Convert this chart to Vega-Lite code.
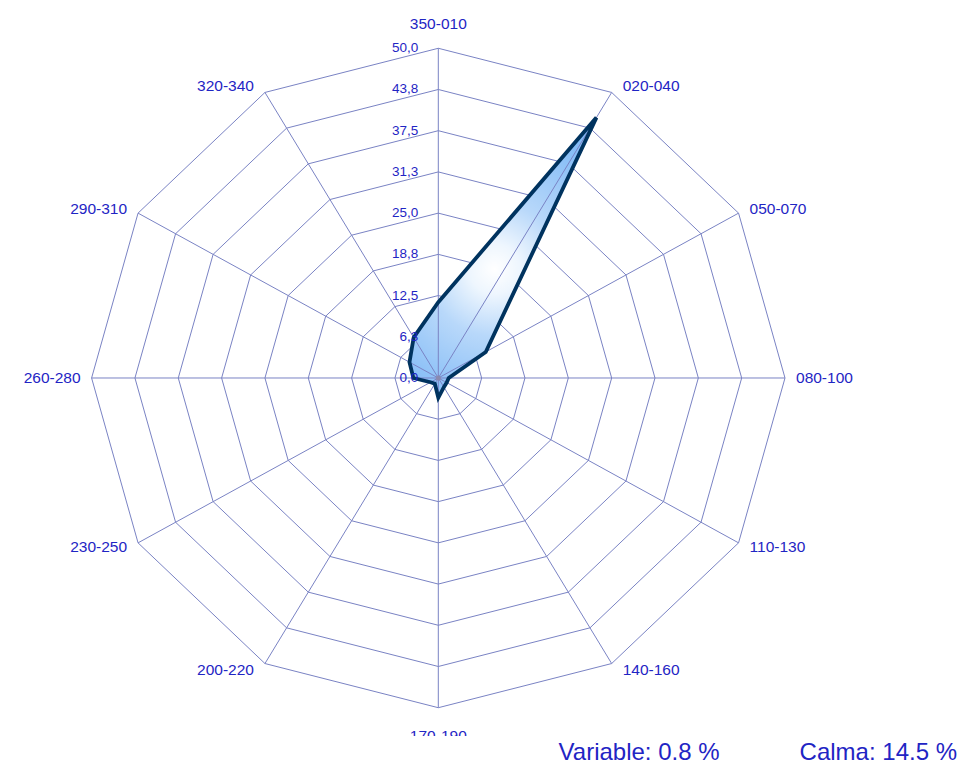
{
  "$schema": "https://vega.github.io/schema/vega-lite/v6.json",
  "width": 961,
  "height": 736,
  "padding": {"left": 0, "top": 0, "right": 0, "bottom": 29},
  "autosize": {"type": "none"},
  "background": "white",
  "config": {"view": {"stroke": null}},
  "title": {
    "text": "Variable: 0.8 %\u00a0\u00a0\u00a0\u00a0\u00a0\u00a0\u00a0\u00a0\u00a0\u00a0\u00a0\u00a0Calma: 14.5 %",
    "orient": "bottom",
    "anchor": "end",
    "frame": "group",
    "baseline": "alphabetic",
    "offset": 24,
    "dx": -4,
    "font": "Liberation Sans",
    "fontSize": 24,
    "fontWeight": "normal",
    "color": "#1f25c4"
  },
  "datasets": {
    "dirs": [
      {"dir": "350-010", "deg": 0, "pct": 11.5},
      {"dir": "020-040", "deg": 30, "pct": 45.6},
      {"dir": "050-070", "deg": 60, "pct": 7.9},
      {"dir": "080-100", "deg": 90, "pct": 1.5},
      {"dir": "110-130", "deg": 120, "pct": 1.4},
      {"dir": "140-160", "deg": 150, "pct": 1.6},
      {"dir": "170-190", "deg": 180, "pct": 3.0},
      {"dir": "200-220", "deg": 210, "pct": 1.0},
      {"dir": "230-250", "deg": 240, "pct": 1.3},
      {"dir": "260-280", "deg": 270, "pct": 3.6},
      {"dir": "290-310", "deg": 300, "pct": 4.8},
      {"dir": "320-340", "deg": 330, "pct": 7.1}
    ],
    "rings": [
      {"ring": 0, "label": "0,0", "deg": [0]},
      {"ring": 6.25, "label": "6,3", "deg": [0, 30, 60, 90, 120, 150, 180, 210, 240, 270, 300, 330]},
      {"ring": 12.5, "label": "12,5", "deg": [0, 30, 60, 90, 120, 150, 180, 210, 240, 270, 300, 330]},
      {"ring": 18.75, "label": "18,8", "deg": [0, 30, 60, 90, 120, 150, 180, 210, 240, 270, 300, 330]},
      {"ring": 25, "label": "25,0", "deg": [0, 30, 60, 90, 120, 150, 180, 210, 240, 270, 300, 330]},
      {"ring": 31.25, "label": "31,3", "deg": [0, 30, 60, 90, 120, 150, 180, 210, 240, 270, 300, 330]},
      {"ring": 37.5, "label": "37,5", "deg": [0, 30, 60, 90, 120, 150, 180, 210, 240, 270, 300, 330]},
      {"ring": 43.75, "label": "43,8", "deg": [0, 30, 60, 90, 120, 150, 180, 210, 240, 270, 300, 330]},
      {"ring": 50, "label": "50,0", "deg": [0, 30, 60, 90, 120, 150, 180, 210, 240, 270, 300, 330]}
    ]
  },
  "layer": [
    {
      "data": {"name": "rings"},
      "transform": [
        {"filter": "datum.ring > 0"},
        {"flatten": ["deg"]},
        {"calculate": "datum.ring * sin(datum.deg * PI / 180)", "as": "gx"},
        {"calculate": "datum.ring * cos(datum.deg * PI / 180)", "as": "gy"}
      ],
      "mark": {"type": "line", "interpolate": "linear-closed", "stroke": "#7a83c4", "strokeWidth": 1},
      "encoding": {
        "x": {"field": "gx", "type": "quantitative", "scale": {"domain": [-63.21, 75.38], "nice": false, "zero": false}, "axis": null},
        "y": {"field": "gy", "type": "quantitative", "scale": {"domain": [-54.29, 57.32], "nice": false, "zero": false}, "axis": null},
        "detail": {"field": "ring", "type": "nominal"},
        "order": {"field": "deg", "type": "quantitative"}
      }
    },
    {
      "data": {"name": "dirs"},
      "transform": [
        {"calculate": "datum.pct * sin(datum.deg * PI / 180)", "as": "px"},
        {"calculate": "datum.pct * cos(datum.deg * PI / 180)", "as": "py"}
      ],
      "mark": {
        "type": "line",
        "interpolate": "linear-closed",
        "strokeWidth": 0,
        "strokeOpacity": 0,
        "fill": {
          "gradient": "radial",
          "x1": 0.47, "y1": 0.54, "r1": 0,
          "x2": 0.47, "y2": 0.54, "r2": 0.75,
          "stops": [
            {"offset": 0, "color": "#ffffff"},
            {"offset": 0.12, "color": "#eef6fe"},
            {"offset": 0.32, "color": "#b8d8fa"},
            {"offset": 0.6, "color": "#8fc2f7"},
            {"offset": 1, "color": "#6eaef4"}
          ]
        }
      },
      "encoding": {
        "x": {"field": "px", "type": "quantitative"},
        "y": {"field": "py", "type": "quantitative"},
        "order": {"field": "deg", "type": "quantitative"}
      }
    },
    {
      "data": {"name": "dirs"},
      "transform": [
        {"calculate": "0", "as": "ox"},
        {"calculate": "0", "as": "oy"},
        {"calculate": "50 * sin(datum.deg * PI / 180)", "as": "sx"},
        {"calculate": "50 * cos(datum.deg * PI / 180)", "as": "sy"}
      ],
      "mark": {"type": "rule", "stroke": "#7a83c4", "strokeWidth": 1},
      "encoding": {
        "x": {"field": "ox", "type": "quantitative"},
        "y": {"field": "oy", "type": "quantitative"},
        "x2": {"field": "sx"},
        "y2": {"field": "sy"}
      }
    },
    {
      "data": {"name": "dirs"},
      "transform": [
        {"calculate": "datum.pct * sin(datum.deg * PI / 180)", "as": "px"},
        {"calculate": "datum.pct * cos(datum.deg * PI / 180)", "as": "py"}
      ],
      "mark": {"type": "line", "interpolate": "linear-closed", "stroke": "#00335f", "strokeWidth": 3.8, "strokeJoin": "miter"},
      "encoding": {
        "x": {"field": "px", "type": "quantitative"},
        "y": {"field": "py", "type": "quantitative"},
        "order": {"field": "deg", "type": "quantitative"}
      }
    },
    {
      "data": {"values": [{"cx": 0, "cy": 0}]},
      "mark": {"type": "point", "filled": true, "color": "#8a8ab0", "size": 25, "opacity": 1},
      "encoding": {
        "x": {"field": "cx", "type": "quantitative"},
        "y": {"field": "cy", "type": "quantitative"}
      }
    },
    {
      "data": {"name": "rings"},
      "transform": [
        {"calculate": "0", "as": "tx"}
      ],
      "mark": {"type": "text", "align": "right", "baseline": "middle", "dx": -20, "font": "Liberation Sans", "fontSize": 13.5, "color": "#1f25c4"},
      "encoding": {
        "x": {"field": "tx", "type": "quantitative"},
        "y": {"field": "ring", "type": "quantitative"},
        "text": {"field": "label", "type": "nominal"}
      }
    },
    {
      "data": {"name": "dirs"},
      "transform": [
        {"filter": "datum.deg > 0 && datum.deg < 180"},
        {"calculate": "50 * sin(datum.deg * PI / 180)", "as": "lx"},
        {"calculate": "51.2 * cos(datum.deg * PI / 180)", "as": "ly"}
      ],
      "mark": {"type": "text", "align": "left", "baseline": "middle", "dx": 11, "font": "Liberation Sans", "fontSize": 15.5, "color": "#1f25c4"},
      "encoding": {
        "x": {"field": "lx", "type": "quantitative"},
        "y": {"field": "ly", "type": "quantitative"},
        "text": {"field": "dir", "type": "nominal"}
      }
    },
    {
      "data": {"name": "dirs"},
      "transform": [
        {"filter": "datum.deg > 180"},
        {"calculate": "50 * sin(datum.deg * PI / 180)", "as": "lx"},
        {"calculate": "51.2 * cos(datum.deg * PI / 180)", "as": "ly"}
      ],
      "mark": {"type": "text", "align": "right", "baseline": "middle", "dx": -11, "font": "Liberation Sans", "fontSize": 15.5, "color": "#1f25c4"},
      "encoding": {
        "x": {"field": "lx", "type": "quantitative"},
        "y": {"field": "ly", "type": "quantitative"},
        "text": {"field": "dir", "type": "nominal"}
      }
    },
    {
      "data": {"name": "dirs"},
      "transform": [
        {"filter": "datum.deg == 0"},
        {"calculate": "0", "as": "lx"},
        {"calculate": "50", "as": "ly"}
      ],
      "mark": {"type": "text", "align": "center", "baseline": "middle", "dy": -24, "font": "Liberation Sans", "fontSize": 15.5, "color": "#1f25c4"},
      "encoding": {
        "x": {"field": "lx", "type": "quantitative"},
        "y": {"field": "ly", "type": "quantitative"},
        "text": {"field": "dir", "type": "nominal"}
      }
    },
    {
      "data": {"name": "dirs"},
      "transform": [
        {"filter": "datum.deg == 180"},
        {"calculate": "0", "as": "lx"},
        {"calculate": "-50", "as": "ly"}
      ],
      "mark": {"type": "text", "align": "center", "baseline": "middle", "dy": 28, "clip": true, "font": "Liberation Sans", "fontSize": 15.5, "color": "#1f25c4"},
      "encoding": {
        "x": {"field": "lx", "type": "quantitative"},
        "y": {"field": "ly", "type": "quantitative"},
        "text": {"field": "dir", "type": "nominal"}
      }
    }
  ]
}
